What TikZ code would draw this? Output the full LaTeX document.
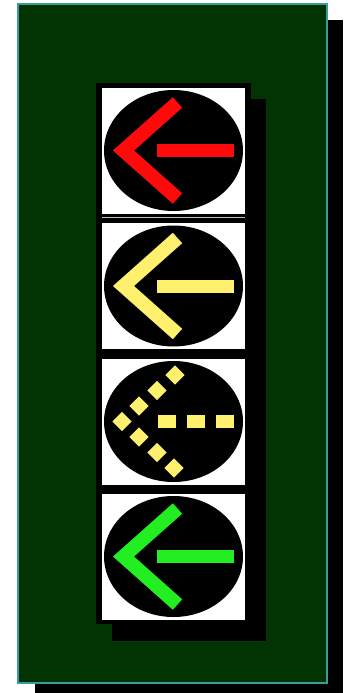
\documentclass[tikz,border=0pt]{standalone}
\usetikzlibrary{positioning,calc}
\definecolor{panel}{HTML}{023302}
\definecolor{rim}{HTML}{3A9C9C}
\definecolor{sigred}{HTML}{FF0A0A}
\definecolor{sigamber}{HTML}{FFF06E}
\definecolor{siggreen}{HTML}{22EE22}

\begin{document}
\begin{tikzpicture}[x=1pt,y=-1pt,
  face/.style={fill=white,inner sep=0pt,minimum width=143pt,minimum height=126pt},
  lens/.style={fill=black},
  dotsq/.style={fill=sigamber,inner sep=0pt,minimum size=13.5pt,rotate=45},
  dashbox/.style={fill=sigamber,inner sep=0pt,minimum width=18pt,minimum height=13pt}]
\useasboundingbox (0,0) rectangle (343,693);
% panel with drop shadow
\fill[black] (35,20) rectangle (343,693);
\fill[panel,draw=rim,line width=1.5pt] (18,4) rectangle (327,683);
% signal housing with drop shadow
\fill[black] (112,99) rectangle (266,641);
\fill[black] (96,83) rectangle (251,624);
% the four lamp faces
\node[face] (redface) at (173.5,150.5) {};
\node[face] (ambface) at (173.5,286) {};
\node[face] (flashface) at (173.5,421.5) {};
\node[face] (greenface) at (173.5,556.5) {};
\draw[gray!50,line width=1.2pt] ($(ambface.north west)+(0,-5)$) -- ($(ambface.north east)+(0,-5)$);
\foreach \f in {redface,ambface,flashface,greenface}
  \fill[lens] (\f.center) ellipse [x radius=69.5pt,y radius=60.5pt];
% solid left arrows
\foreach \f/\c in {redface/sigred,ambface/sigamber,greenface/siggreen}{
  \draw[\c,line width=14pt,line join=miter] ($(\f.center)+(4,-48)$) -- ($(\f.center)+(-50,0)$) -- ($(\f.center)+(4,48)$);
  \fill[\c] ($(\f.center)+(-16.5,-6.5)$) rectangle ($(\f.center)+(60.5,6.5)$);
}
% flashing arrow made of dots
\foreach \dx/\dy [count=\i] in {1.5/-46.5,-16.5/-31,-34.5/-15.5,-51.5/0,-34.5/15.5,-16.5/31,0.5/46.5}
  \node[dotsq] (dot\i) at ($(flashface.center)+(\dx,\dy)$) {};
\foreach \dx [count=\i] in {-6.5,22.5,51.5}
  \node[dashbox] (dash\i) at ($(flashface.center)+(\dx,0)$) {};
\end{tikzpicture}
\end{document}
